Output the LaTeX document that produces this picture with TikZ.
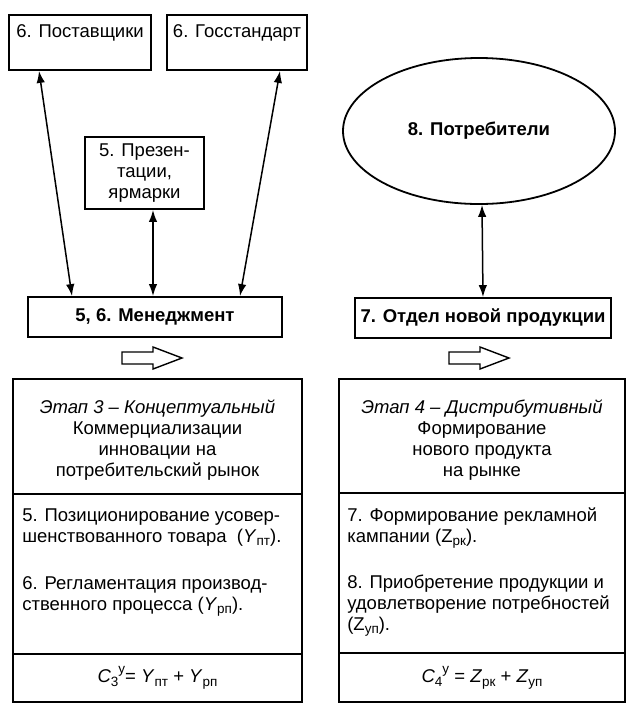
\documentclass[tikz,border=0pt]{standalone}
\usepackage{fontspec}
\setmainfont{Liberation Sans}
\usetikzlibrary{arrows.meta,shapes.geometric,calc}
\newcommand{\lsub}[1]{\raisebox{-0.4ex}{\fontsize{13.5}{13.5}\selectfont #1}}
\newcommand{\lsup}[1]{\raisebox{0.9ex}{\fontsize{13.5}{13.5}\selectfont #1}}
\begin{document}
\begin{tikzpicture}[x=1pt,y=-1pt,
  every node/.style={font=\fontsize{18.5}{21}\selectfont},
  box/.style={draw,line width=1.8pt,inner sep=0pt},
  txt/.style={inner sep=0pt},
  conn/.style={line width=1.5pt,{Latex[length=12pt,width=8.5pt]}-{Latex[length=12pt,width=8.5pt]}},
  hollow/.style={draw,line width=1.4pt,line join=miter}]
\useasboundingbox[fill=white] (0,0) rectangle (638,713);

% top left group
\node[box,minimum width=142,minimum height=55] (sup) at (80,42.5) {};
\node[txt,anchor=north] (supt) at ([yshift=-10]sup.north) {6. Поставщики};
\node[box,minimum width=140,minimum height=55] (gost) at (237,42.5) {};
\node[txt,anchor=north] (gostt) at ([yshift=-10]gost.north) {6. Госстандарт};
\node[box,minimum width=119,minimum height=72,align=center] (prez) at (144.5,173) {5. Презен-\\тации,\\ярмарки};
\node[box,minimum width=254,minimum height=40] (mgmt) at (155,317) {\bfseries 5, 6. Менеджмент};

\draw[conn] ([xshift=-41]sup.south) -- ([xshift=-83]mgmt.north);
\draw[conn] ([xshift=43]gost.south) -- ([xshift=85]mgmt.north);
\draw[conn] ([xshift=8.5]prez.south) -- ([xshift=-2]mgmt.north);

% top right group
\node[draw,ellipse,line width=1.8pt,minimum width=272,minimum height=146,inner sep=0pt] (cons) at (479,131) {\bfseries 8. Потребители};
\node[box,minimum width=256,minimum height=40] (dept) at (483,318) {\bfseries 7. Отдел новой продукции};
\draw[conn] ([xshift=3]cons.south) -- (dept.north);

% hollow arrows
\draw[hollow] (122,352) -- (153,352) -- (153,347) -- (182,358) -- (153,369) -- (153,364) -- (122,364) -- cycle;
\draw[hollow] (449,352) -- (480,352) -- (480,347) -- (509,358) -- (480,369) -- (480,364) -- (449,364) -- cycle;

% bottom left table
\node[box,minimum width=289,minimum height=115] (s3a) at (157.5,436.5) {};
\node[box,minimum width=289,minimum height=160] (s3b) at (157.5,574) {};
\node[box,minimum width=289,minimum height=48] (s3c) at (157.5,678) {\textit{C}\lsub{3}\lsup{у}= \textit{Y}\lsub{пт} + \textit{Y}\lsub{рп}};
\node[txt,align=center] (s3at) at ([yshift=-4]s3a.center) {\textit{Этап 3 – Концептуальный}\\Коммерциализации\\инновации на\\потребительский рынок};
\node[txt,align=left,anchor=north west] (s3bt) at ([xshift=10,yshift=-15]s3b.north west) {5. Позиционирование усовер-\\шенствованного товара\ \ (\textit{Y}\lsub{пт}).\\[26pt]6. Регламентация производ-\\ственного процесса (\textit{Y}\lsub{рп}).};

% bottom right table
\node[box,minimum width=286,minimum height=114] (s4a) at (482,436) {};
\node[box,minimum width=286,minimum height=160] (s4b) at (482,573) {};
\node[box,minimum width=286,minimum height=49] (s4c) at (482,677.5) {\textit{C}\lsub{4}\lsup{у} = \textit{Z}\lsub{рк} + \textit{Z}\lsub{уп}};
\node[txt,align=center] (s4at) at ([yshift=-4]s4a.center) {\textit{Этап 4 – Дистрибутивный}\\Формирование\\нового продукта\\на рынке};
\node[txt,align=left,anchor=north west] (s4bt) at ([xshift=9,yshift=-15]s4b.north west) {7. Формирование рекламной\\кампании (Z\lsub{рк}).\\[25pt]8. Приобретение продукции и\\удовлетворение потребностей\\(Z\lsub{уп}).};
\end{tikzpicture}
\end{document}
